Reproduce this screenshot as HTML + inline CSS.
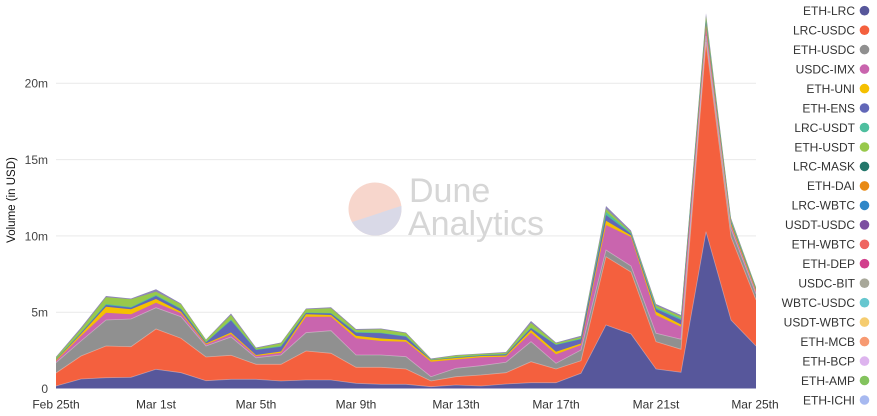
<!DOCTYPE html>
<html>
<head>
<meta charset="utf-8">
<style>
html,body{margin:0;padding:0;background:#fff;}
body{width:877px;height:416px;overflow:hidden;position:relative;font-family:"Liberation Sans",sans-serif;}
svg{position:absolute;left:0;top:0;}
</style>
</head>
<body>
<svg width="877" height="416" viewBox="0 0 877 416" xmlns="http://www.w3.org/2000/svg">
  <!-- gridlines -->
  <g stroke="#e9e9e9" stroke-width="1">
    <line x1="56" y1="83.3" x2="756" y2="83.3"/>
    <line x1="56" y1="159.6" x2="756" y2="159.6"/>
    <line x1="56" y1="235.9" x2="756" y2="235.9"/>
    <line x1="56" y1="312.2" x2="756" y2="312.2"/>
  </g>

  <!-- watermark -->
  <defs>
    <clipPath id="cc"><circle cx="375" cy="209" r="26.5"/></clipPath>
  </defs>
  <g clip-path="url(#cc)">
    <rect x="345" y="180" width="60" height="60" fill="#f7d6cc"/>
    <polygon points="340,226 410,203 410,245 340,245" fill="#d9d9e7"/>
  </g>
  <text x="409" y="202" font-family="Liberation Sans, sans-serif" font-size="34" fill="#d6d6d6">Dune</text>
  <text x="408" y="235" font-family="Liberation Sans, sans-serif" font-size="34" fill="#d6d6d6">Analytics</text>

  <!-- stacked areas (painter order: top down) -->
  <path fill="#8f86b8" d="M56,388.5 L56,356.7 81,327.5 106,296 131,298.5 156,289.3 181,303.5 206,339.5 231,313.5 256,347.5 281,342.5 306,308.5 331,307.3 356,329 381,328.5 406,332.5 431,358.5 456,355 481,353.5 506,352 531,321 556,342.5 581,335.7 606,206 631,230.5 656,304 681,315 706,13.3 731,218 756,287 L756,388.5 Z"/>
  <path fill="#98c94b" d="M56,388.5 L56,357.5 81,329 106,297.3 131,299.3 156,291.7 181,304.3 206,340 231,315 256,348.3 281,343.3 306,309.3 331,308.3 356,330 381,329.3 406,333.3 431,359.3 456,355.5 481,354 506,352.7 531,323 556,343.3 581,337 606,209 631,232 656,305.5 681,316.5 706,16 731,219.5 756,287.5 L756,388.5 Z"/>
  <path fill="#4fbf9f" d="M56,388.5 L56,359 81,332.5 106,304 131,307 156,295 181,308.5 206,342 231,319.5 256,349.5 281,346 306,312.5 331,313 356,332 381,332.8 406,336 431,359.7 456,357 481,355 506,354 531,327.5 556,344.5 581,338.5 606,212 631,233 656,307.5 681,318.5 706,20 731,221 756,288.5 L756,388.5 Z"/>
  <path fill="#6167b8" d="M56,388.5 L56,359.5 81,333 106,305 131,307.7 156,296 181,309.3 206,342.5 231,320.5 256,350 281,346.7 306,313 331,313.5 356,332.7 381,333.3 406,336.7 431,360 456,357.5 481,355.5 506,354.5 531,328.3 556,345 581,339.3 606,215 631,234 656,309 681,320 706,22 731,222 756,289 L756,388.5 Z"/>
  <path fill="#f5c000" d="M56,388.5 L56,360 81,334 106,306.7 131,309.3 156,299 181,311.7 206,343.5 231,332.5 256,355 281,351.5 306,314.3 331,315 356,335.7 381,338.5 406,340 431,360.3 456,358 481,356 506,355.5 531,330 556,351.7 581,343.5 606,220.7 631,235.5 656,311.7 681,324.5 706,25 731,223.5 756,290 L756,388.5 Z"/>
  <path fill="#c965ae" d="M56,388.5 L56,361 81,336 106,312.7 131,314.3 156,302.7 181,313.3 206,344.5 231,334 256,356 281,352.7 306,316.7 331,316.7 356,338.3 381,341 406,341.7 431,361.7 456,359.5 481,357.3 506,356.7 531,332.7 556,354.3 581,345 606,225 631,237 656,315 681,326.7 706,28 731,225.5 756,291.5 L756,388.5 Z"/>
  <path fill="#909090" d="M56,388.5 L56,362.7 81,341 106,320 131,319 156,307.7 181,316.7 206,346 231,337 256,357.8 281,355 306,332.7 331,330.7 356,355 381,355 406,356.7 431,376.7 456,368.3 481,365.7 506,362.3 531,341.7 556,363.3 581,350 606,250 631,266 656,333.3 681,339.3 706,36 731,229 756,294 L756,388.5 Z"/>
  <path fill="#f4603e" d="M56,388.5 L56,373 81,356 106,346 131,346.7 156,329 181,338.3 206,357 231,355.3 256,364.3 281,364.3 306,351 331,353.3 356,367.3 381,367.3 406,369 431,381 456,376.7 481,375 506,372.7 531,361.7 556,369 581,360.7 606,256.7 631,272 656,341.7 681,349.3 706,42 731,237 756,300 L756,388.5 Z"/>
  <path fill="#57579b" d="M56,388.5 L56,386 81,379 106,377.7 131,377.3 156,369.3 181,372.7 206,380.7 231,379.3 256,379.3 281,381 306,380 331,380 356,383.3 381,384.3 406,384.3 431,386.7 456,385 481,386 506,384 531,382.7 556,382.7 581,373.3 606,325 631,334 656,369 681,372.3 706,231.7 731,320 756,346 L756,388.5 Z"/>

  <!-- subtle light boundary lines -->
  <g fill="none" stroke="rgba(255,255,255,0.35)" stroke-width="0.8">
    <polyline points="56,386 81,379 106,377.7 131,377.3 156,369.3 181,372.7 206,380.7 231,379.3 256,379.3 281,381 306,380 331,380 356,383.3 381,384.3 406,384.3 431,386.7 456,385 481,386 506,384 531,382.7 556,382.7 581,373.3 606,325 631,334 656,369 681,372.3 706,231.7 731,320 756,346"/>
    <polyline points="56,373 81,356 106,346 131,346.7 156,329 181,338.3 206,357 231,355.3 256,364.3 281,364.3 306,351 331,353.3 356,367.3 381,367.3 406,369 431,381 456,376.7 481,375 506,372.7 531,361.7 556,369 581,360.7 606,256.7 631,272 656,341.7 681,349.3 706,42 731,237 756,300"/>
    <polyline points="56,362.7 81,341 106,320 131,319 156,307.7 181,316.7 206,346 231,337 256,357.8 281,355 306,332.7 331,330.7 356,355 381,355 406,356.7 431,376.7 456,368.3 481,365.7 506,362.3 531,341.7 556,363.3 581,350 606,250 631,266 656,333.3 681,339.3 706,36 731,229 756,294"/>
  </g>

  <!-- y axis labels -->
  <g font-family="Liberation Sans, sans-serif" font-size="12" fill="#444" text-anchor="end">
    <text x="48" y="87.5">20m</text>
    <text x="48" y="164">15m</text>
    <text x="48" y="240.3">10m</text>
    <text x="48" y="316.6">5m</text>
    <text x="48" y="392.8">0</text>
  </g>
  <text transform="translate(15,200) rotate(-90)" text-anchor="middle" font-family="Liberation Sans, sans-serif" font-size="11.5" fill="#111">Volume (in USD)</text>

  <!-- x axis labels -->
  <g font-family="Liberation Sans, sans-serif" font-size="12" fill="#333" text-anchor="middle">
    <text x="56" y="408.5">Feb 25th</text>
    <text x="156" y="408.5">Mar 1st</text>
    <text x="256" y="408.5">Mar 5th</text>
    <text x="356" y="408.5">Mar 9th</text>
    <text x="456" y="408.5">Mar 13th</text>
    <text x="556" y="408.5">Mar 17th</text>
    <text x="656" y="408.5">Mar 21st</text>
    <text x="755" y="408.5">Mar 25th</text>
  </g>

  <!-- legend -->
  <g font-family="Liberation Sans, sans-serif" font-size="12" fill="#333" text-anchor="end">
    <text x="855" y="15">ETH-LRC</text>
    <text x="855" y="34.5">LRC-USDC</text>
    <text x="855" y="54">ETH-USDC</text>
    <text x="855" y="73.4">USDC-IMX</text>
    <text x="855" y="92.9">ETH-UNI</text>
    <text x="855" y="112.3">ETH-ENS</text>
    <text x="855" y="131.8">LRC-USDT</text>
    <text x="855" y="151.3">ETH-USDT</text>
    <text x="855" y="170.7">LRC-MASK</text>
    <text x="855" y="190.2">ETH-DAI</text>
    <text x="855" y="209.7">LRC-WBTC</text>
    <text x="855" y="229.1">USDT-USDC</text>
    <text x="855" y="248.6">ETH-WBTC</text>
    <text x="855" y="268">ETH-DEP</text>
    <text x="855" y="287.5">USDC-BIT</text>
    <text x="855" y="307">WBTC-USDC</text>
    <text x="855" y="326.4">USDT-WBTC</text>
    <text x="855" y="345.9">ETH-MCB</text>
    <text x="855" y="365.4">ETH-BCP</text>
    <text x="855" y="384.8">ETH-AMP</text>
    <text x="855" y="404.3">ETH-ICHI</text>
  </g>
  <g>
    <circle cx="864.5" cy="10.7" r="4.8" fill="#57579b"/>
    <circle cx="864.5" cy="30.2" r="4.8" fill="#f4603e"/>
    <circle cx="864.5" cy="49.6" r="4.8" fill="#909090"/>
    <circle cx="864.5" cy="69.1" r="4.8" fill="#c965ae"/>
    <circle cx="864.5" cy="88.6" r="4.8" fill="#f5c000"/>
    <circle cx="864.5" cy="108" r="4.8" fill="#6167b8"/>
    <circle cx="864.5" cy="127.5" r="4.8" fill="#4fbf9f"/>
    <circle cx="864.5" cy="147" r="4.8" fill="#98c94b"/>
    <circle cx="864.5" cy="166.4" r="4.8" fill="#24776b"/>
    <circle cx="864.5" cy="185.9" r="4.8" fill="#e88a15"/>
    <circle cx="864.5" cy="205.4" r="4.8" fill="#2f87c8"/>
    <circle cx="864.5" cy="224.8" r="4.8" fill="#7b4fa0"/>
    <circle cx="864.5" cy="244.3" r="4.8" fill="#ef6560"/>
    <circle cx="864.5" cy="263.7" r="4.8" fill="#d1408c"/>
    <circle cx="864.5" cy="283.2" r="4.8" fill="#a8a89a"/>
    <circle cx="864.5" cy="302.7" r="4.8" fill="#66c7cf"/>
    <circle cx="864.5" cy="322.1" r="4.8" fill="#f5cc6f"/>
    <circle cx="864.5" cy="341.6" r="4.8" fill="#f79a72"/>
    <circle cx="864.5" cy="361.1" r="4.8" fill="#ddb4ee"/>
    <circle cx="864.5" cy="380.5" r="4.8" fill="#83c35e"/>
    <circle cx="864.5" cy="400" r="4.8" fill="#a7b9f0"/>
  </g>
</svg>
</body>
</html>
